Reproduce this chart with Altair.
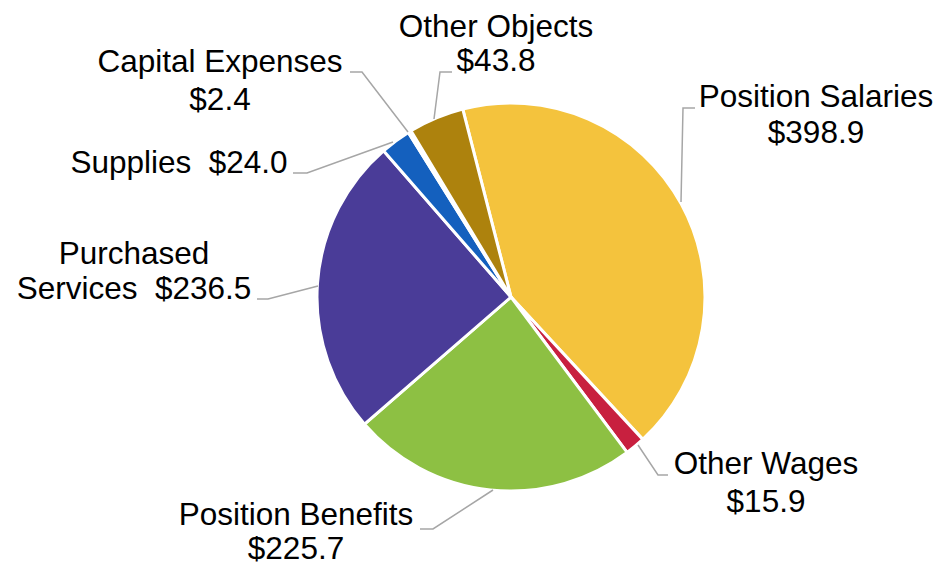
import math
import altair as alt
import pandas as pd

# ---- data ----
categories = ["Position Salaries", "Other Wages", "Position Benefits",
              "Purchased Services", "Supplies", "Capital Expenses", "Other Objects"]
values = [398.9, 15.9, 225.7, 236.5, 24.0, 2.4, 43.8]
colors = ["#F4C33D", "#C8203F", "#8DC043", "#4A3C98", "#1460BE", "#8C8C8C", "#AD820D"]

# label line structure (text lines per category)
label_lines = {
    "Position Salaries": ["Position Salaries", "{v}"],
    "Other Wages": ["Other Wages", "{v}"],
    "Position Benefits": ["Position Benefits", "{v}"],
    "Purchased Services": ["Purchased", "Services\u00a0 {v}"],
    "Supplies": ["Supplies\u00a0 {v}"],
    "Capital Expenses": ["Capital Expenses", "{v}"],
    "Other Objects": ["Other Objects", "{v}"],
}

# ---- layout (page pixel coordinates of labels and leader lines) ----
label_pos = {  # center x, first baseline y, line pitch
    "Position Salaries": (816, 107, 36),
    "Other Wages": (766, 474, 38),
    "Position Benefits": (296, 525, 34),
    "Purchased Services": (134, 264, 35),
    "Supplies": (179, 173, 36),
    "Capital Expenses": (220, 72, 38),
    "Other Objects": (496, 37, 34),
}
leaders = {
    "Position Salaries": [(681, 202), (683, 108), (695, 108)],
    "Other Wages": [(638, 445), (658, 475), (668, 475)],
    "Position Benefits": [(493, 490), (433, 529), (420, 529)],
    "Purchased Services": [(318, 286), (268, 299), (257, 299)],
    "Supplies": [(393, 142), (307, 173), (293, 173)],
    "Capital Expenses": [(408, 132), (362, 72), (350, 72)],
    "Other Objects": [(434, 119), (440, 72), (452, 72)],
}

W, H = 926, 558
cx, cy, R = 511 - 8, 297 - 8, 194
start = math.radians(-14.4)

pie_df = pd.DataFrame({"category": categories, "value": values,
                       "idx": list(range(len(categories)))})

txt_rows = []
for c, v in zip(categories, values):
    x0, y0, pitch = label_pos[c]
    for i, line in enumerate(label_lines[c]):
        txt_rows.append({"category": c, "text": line.format(v=f"${v:.1f}"),
                         "x": x0, "y": y0 + i * pitch})
txt_df = pd.DataFrame(txt_rows)

lead_rows = []
for c in categories:
    for i, (x, y) in enumerate(leaders[c]):
        lead_rows.append({"category": c, "k": i, "x": x, "y": y})
lead_df = pd.DataFrame(lead_rows)

xs = alt.Scale(domain=[8, 8 + W], range=[0, W])
ys = alt.Scale(domain=[8 + H, 8])

pie = alt.Chart(pie_df).mark_arc(outerRadius=R, stroke="white", strokeWidth=3).encode(
    theta=alt.Theta("value:Q", stack=True,
                    scale=alt.Scale(range=[start, start + 2 * math.pi])),
    order=alt.Order("idx:Q"),
    color=alt.Color("category:N", scale=alt.Scale(domain=categories, range=colors),
                    legend=None),
    x=alt.value(cx),
    y=alt.value(cy),
)

lead = alt.Chart(lead_df).mark_line(color="#A6A6A6", strokeWidth=1.5).encode(
    x=alt.X("x:Q", scale=xs, axis=None),
    y=alt.Y("y:Q", scale=ys, axis=None),
    detail="category:N",
    order="k:Q",
)

text = alt.Chart(txt_df).mark_text(font="Liberation Sans", fontSize=31.5, color="black",
                                   align="center", baseline="alphabetic").encode(
    x=alt.X("x:Q", scale=xs, axis=None),
    y=alt.Y("y:Q", scale=ys, axis=None),
    text="text:N",
)

chart = alt.layer(pie, lead, text).properties(
    width=W, height=H, padding=0,
    autosize=alt.AutoSizeParams(type="none"),
).configure_view(stroke=None)

chart.save("out.html", embed_options={"renderer": "svg", "actions": False})
